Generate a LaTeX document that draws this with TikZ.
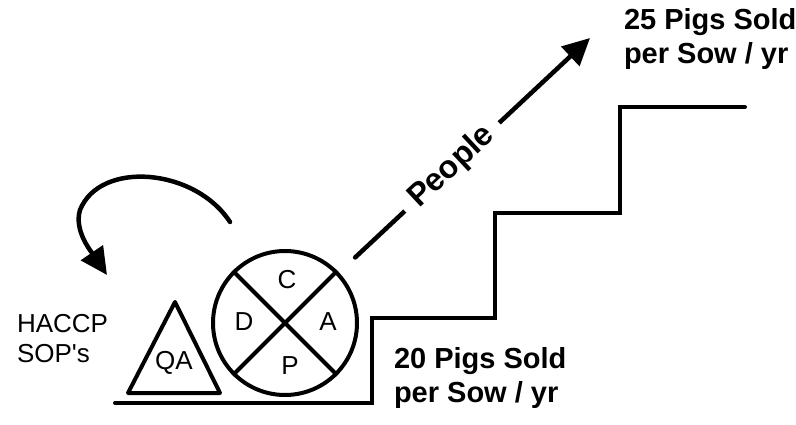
\documentclass[tikz,border=0pt]{standalone}
\usepackage{fontspec}
\setmainfont{Liberation Sans}
\usetikzlibrary{arrows.meta,positioning}

\begin{document}
\begin{tikzpicture}[x=1pt,y=-1pt,line width=4pt,
		lbl/.style={font=\fontsize{26}{30}\selectfont,inner sep=0pt},
		goal/.style={font=\bfseries\fontsize{29}{34}\selectfont,align=left,anchor=base west,inner sep=0pt},
		bigtip/.style={-{Triangle[length=27pt,width=26pt]},line width=4.5pt}]
	\useasboundingbox (0,0) rectangle (796,425);
	\draw[line cap=round] (115,403) -- (372,403) -- (372,318) -- (495,318) -- (495,213) -- (620,213) -- (620,107) -- (745,107);
	\node[draw,circle,minimum size=144pt,inner sep=0pt] (pdca) at (285,323) {};
	\draw (pdca.north west) -- (pdca.south east)
		(pdca.north east) -- (pdca.south west);
	\node[lbl] (plan) at (287,280) {C};
	\node[lbl] (do) at (244,322) {D};
	\node[lbl] (act) at (328,322) {A};
	\node[lbl] (chk) at (290,366) {P};
	\draw[line join=round] (175,302) -- (220,393) -- (128,393) -- cycle;
	\node[lbl] (qa) at (174,363) {QA};
	\node[lbl,align=left,anchor=base west] (haccp) at (15,362) {HACCP\\SOP\textquotesingle s};
	\node[goal] (now) at (392,402) {20 Pigs Sold\\per Sow / yr};
	\node[goal] (target) at (622,64) {25 Pigs Sold\\per Sow / yr};
	\coordinate (tip) at (590,38);
	\coordinate (loopstart) at (230,222);
	\coordinate (loopend) at (107,275);
	\path[bigtip]
		(pdca) edge[line cap=round,shorten <=22pt] node[pos=.45,sloped,fill=white,inner xsep=12pt,inner ysep=4pt,font=\bfseries\fontsize{32}{36}\selectfont] (people) {People} (tip);
	\draw[bigtip,line cap=round] (loopstart) .. controls (195,168) and (100,160) .. (80,210) .. controls (74,230) and (90,250) .. (loopend);
\end{tikzpicture}
\end{document}
